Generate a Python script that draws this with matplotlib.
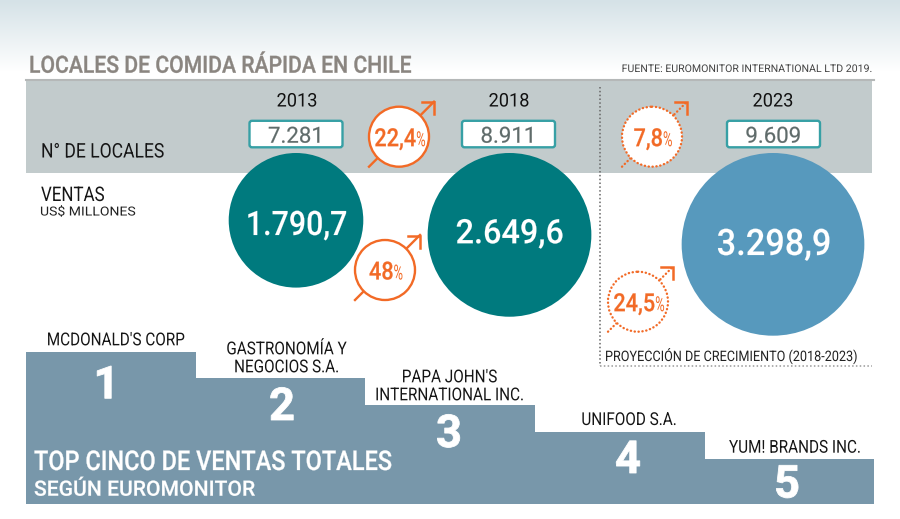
# -*- coding: utf-8 -*-

import numpy as np
import matplotlib.pyplot as plt
from matplotlib.colors import LinearSegmentedColormap
from matplotlib.patches import Circle, FancyBboxPatch
from matplotlib.patheffects import AbstractPathEffect
from matplotlib.transforms import Affine2D

plt.rcParams['font.family'] = ['Roboto', 'DejaVu Sans']

years = ['2013', '2018', '2023']
locales = ['7.281', '8.911', '9.609']
ventas = [1790.7, 2649.6, 3298.9]
ventas_labels = ['1.790,7', '2.649,6', '3.298,9']
locales_growth = ['22,4', '7,8']
ventas_growth = ['48', '24,5']
ranking = [1, 2, 3, 4, 5]
companies = ["MCDONALD'S CORP", 'GASTRONOMÍA Y\nNEGOCIOS S.A.', "PAPA JOHN'S\nINTERNATIONAL INC.", 'UNIFOOD S.A.', 'YUM! BRANDS INC.']

teal = '#007a7e'
blue = '#5799bd'
orange = '#f26a26'
step_col = '#7897aa'
band_col = '#c2cbcc'

fig = plt.figure(figsize=(9, 5.19), dpi=100)
ax = fig.add_axes([0, 0, 1, 1])

# fondo degradado
grad = np.linspace(0, 1, 72).reshape(-1, 1)
ax.imshow(grad, cmap=LinearSegmentedColormap.from_list('g', ['#d5e2e7', '#ffffff']),
          extent=(0, 900, 72, 0), aspect='auto', zorder=0)
ax.set_xlim(0, 900)
ax.set_ylim(519, 0)
ax.axis('off')


class Squeeze(AbstractPathEffect):
    # la fuente del original es mas angosta, se comprime en x
    def __init__(self, x0, sx, heavy=0):
        super().__init__()
        self.x0 = x0
        self.sx = sx
        self.heavy = heavy

    def draw_path(self, renderer, gc, tpath, affine, rgbFace=None):
        t = affine + Affine2D().translate(-self.x0, 0).scale(self.sx, 1).translate(self.x0, 0)
        gc0 = renderer.new_gc()
        gc0.copy_properties(gc)
        if self.heavy:
            gc0.set_linewidth(self.heavy)
            gc0.set_foreground(rgbFace)
        renderer.draw_path(gc0, tpath, t, rgbFace)
        gc0.restore()


def label(x, y, s, size, sx=1.0, color='#151515', ha='left', weight='normal', z=4, heavy=0):
    x0 = ax.transData.transform((x, y))[0]
    t = ax.text(x, y, s, fontsize=size, color=color, ha=ha, va='baseline', fontweight=weight, zorder=z)
    t.set_path_effects([Squeeze(x0, sx, heavy)])
    return t


label(29, 72.7, 'LOCALES DE COMIDA RÁPIDA EN CHILE', 17, 0.895, '#8a8580', weight='medium', heavy=0.25)
label(871, 72, 'FUENTE: EUROMONITOR INTERNATIONAL LTD 2019.', 7.6, 1.0, '#444444', ha='right')

ax.fill_between([26, 872], 81, 173, color=band_col, lw=0, zorder=1)
ax.plot([26, 874], [80, 80], color='#b5b8b8', lw=1.5, zorder=1)

label(41, 157.5, 'N° DE LOCALES', 14.5, 0.87)
label(41, 201, 'VENTAS', 14.5, 0.84)
label(40, 215.5, 'US$ MILLONES', 9, 1.12, '#222222')

# circulos de ventas, area segun valor
k = 67.3 / np.sqrt(ventas[0])
cx = [296, 509.5, 773]
text_x = [296.4, 509.7, 774]
text_y = [235, 243.3, 255]
text_size = [24.3, 24.3, 26.3]
text_sq = [0.9, 0.96, 0.94]
for i in range(3):
    r = k * np.sqrt(ventas[i])
    col = blue if i == 2 else teal
    ax.add_patch(Circle((cx[i], 153 + r), r, color=col, lw=0, zorder=2))
    label(text_x[i], text_y[i], ventas_labels[i], text_size[i], text_sq[i], 'white', ha='center', weight='medium', heavy=0.1)

box_x = [296, 508.5, 773.5]
for i in range(3):
    label([297, 509, 773][i], 106.5, years[i], 13.5, 0.97, '#111111', ha='center')
    ax.add_patch(FancyBboxPatch((box_x[i] - 46.5, 120.8), 93, 26.5, boxstyle='round,pad=0,rounding_size=2.5',
                                fc='white', ec='#37a0a5', lw=1.7, zorder=3))
    label(box_x[i], 142.7, locales[i], 16, 1.0, '#5f6b6a', ha='center', heavy=0.15)


def growth(x, y, s, dotted=False):
    ls = (0, (0.1, 1.55)) if dotted else '-'
    lw = 1.7
    # linea diagonal, la punta va aparte porque siempre es solida
    ax.plot([x - 30, x + 35], [y + 30, y - 35], color=orange, lw=lw, ls=ls, dash_capstyle='round', zorder=4)
    ax.plot([x + 23, x + 35, x + 35], [y - 34.5, y - 34.5, y - 22.5], color=orange, lw=1.8,
            solid_joinstyle='miter', zorder=6)
    ax.add_patch(Circle((x, y), 30, fc='white', ec=orange, lw=lw, ls=ls, capstyle='round', zorder=5))
    # cifra anclada a la derecha y % a la izquierda, se tocan en el mismo punto
    t = label(x, y + 9.5, s, 18, 0.87, orange, ha='right', weight='medium', z=6, heavy=0.15)
    fig.canvas.draw()
    w = t.get_window_extent().width * 0.87
    joint = x + 1.5 + (w - 10.5) / 2
    t.set_x(joint)
    t.set_path_effects([Squeeze(ax.transData.transform((joint, y))[0], 0.87, 0.15)])
    label(joint, y + 9.5, '%', 15, 0.62, orange, z=6)


growth(399, 136.7, locales_growth[0])
growth(652, 136.7, locales_growth[1], dotted=True)
growth(385, 270, ventas_growth[0])
growth(638, 301.7, ventas_growth[1], dotted=True)

# zona proyeccion
ax.plot([600, 600], [87, 366], color='#666666', lw=1.1, ls=(0, (1, 1.5)), zorder=4)
ax.plot([600, 872], [366, 366], color='#999999', lw=1.1, ls=(0, (1, 1.5)), zorder=4)
label(605, 361, 'PROYECCIÓN DE CRECIMIENTO (2018-2023)', 10.4, 0.875, '#222222')

# escalones
edges = [26, 195.5, 365, 535, 704.5, 874]
tops = [351.7, 378.3, 405, 431.7, 459]
num_x = [106.5, 282, 449, 628, 787]
num_y = [398.3, 420, 447, 473, 497.5]
name_x = [115.7, 286.5, 449.5, 629, 795]
name_y = [345.3, 354.3, 382.3, 425, 452.7]
for i in range(5):
    ax.fill_between([edges[i], edges[i + 1]], tops[i], 504, color=step_col, lw=0, zorder=1)
    label(num_x[i], num_y[i], str(ranking[i]), 32.6, 1.0, 'white', ha='center', weight='bold', z=3, heavy=0.6)
    for j, line in enumerate(companies[i].split('\n')):
        label(name_x[i], name_y[i] + 18 * j, line, 12.8, 0.86, '#151515', ha='center')

label(34, 470, 'TOP CINCO DE VENTAS TOTALES', 19.6, 0.864, 'white', weight='medium', heavy=0.2)
label(34, 495.7, 'SEGÚN EUROMONITOR', 15.2, 1.0, 'white', weight='medium', heavy=0.15)

fig.savefig('out.png', dpi=100)
